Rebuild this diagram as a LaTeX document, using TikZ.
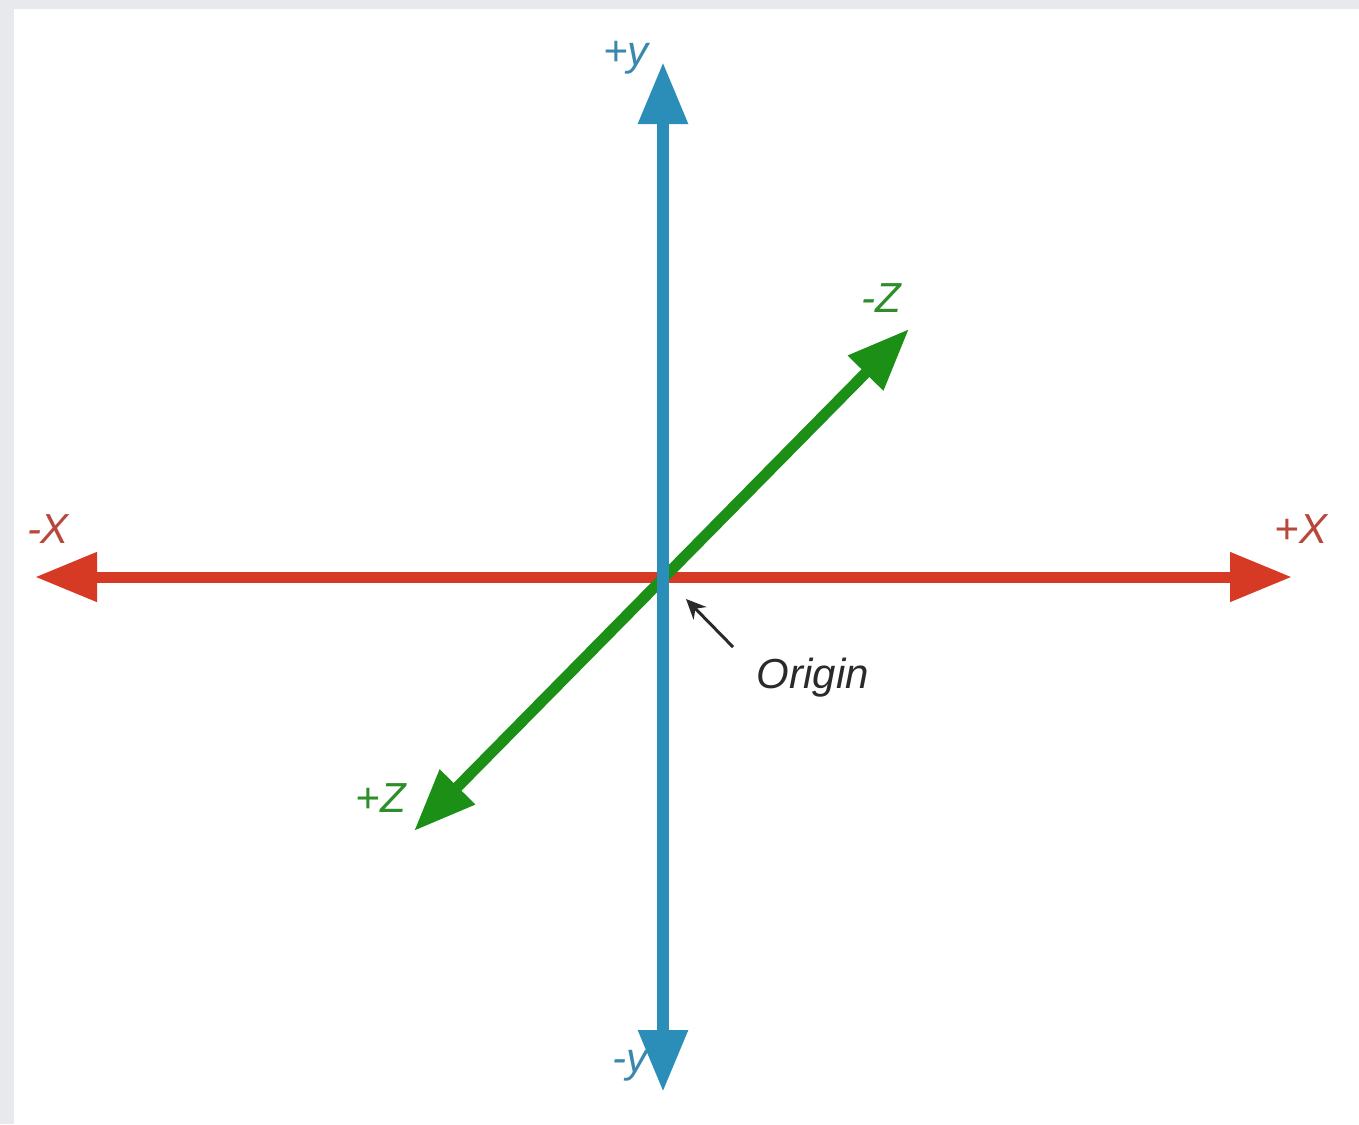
\documentclass[tikz,border=0pt]{standalone}
\usepackage{fontspec}
\setmainfont{Liberation Sans}
\usetikzlibrary{arrows.meta}
\definecolor{bggray}{HTML}{E8E9EC}
\definecolor{axred}{HTML}{D63A25}
\definecolor{axblue}{HTML}{2A8EB9}
\definecolor{axgreen}{HTML}{1C8F16}
\definecolor{lblred}{HTML}{B8473C}
\definecolor{lblblue}{HTML}{3A88AC}
\definecolor{lblgreen}{HTML}{2E8F2A}
\definecolor{lblgray}{HTML}{2A2A2A}
\begin{document}
\begin{tikzpicture}[x=0.5pt,y=-0.5pt,
  lbl/.style={font=\fontsize{21}{25}\selectfont\itshape, anchor=base, inner sep=0pt},
  axis/.style={line width=#1, {Triangle[length=31pt,width=23.5pt]}-{Triangle[length=31pt,width=23.5pt]}}]
\fill[bggray] (0,0) rectangle (1359,1124);
\fill[white] (14,9) rectangle (1359,1124);
\useasboundingbox (0,0) rectangle (1359,1124);

\coordinate (xn) at (35,577);
\coordinate (xp) at (1292,577);
\coordinate (yp) at (663,62);
\coordinate (yn) at (663,1092);
\coordinate (zn) at (909,329);
\coordinate (zp) at (414,831);
\coordinate (otail) at (733,647);
\coordinate (otip) at (686,599);

\draw[axred, axis=5.5pt] (xn) -- (xp);
\draw[axgreen, axis=5.5pt] (zp) -- (zn);
\draw[axblue, axis=6pt] (yn) -- (yp);

\node[lbl, text=lblblue] (lyp) at (626,65) {+y};
\node[lbl, text=lblblue] (lyn) at (630,1072) {-y};
\node[lbl, text=lblred] (lxn) at (48,543) {-X};
\node[lbl, text=lblred] (lxp) at (1301,543) {+X};
\node[lbl, text=lblgreen] (lzn) at (881,312) {-Z};
\node[lbl, text=lblgreen] (lzp) at (381,812) {+Z};
\node[lbl, text=lblgray] (orig) at (813,688) {Origin};

\draw[lblgray, line width=1.5pt, -{Stealth[length=10pt,width=9pt]}] (otail) -- (otip);
\end{tikzpicture}
\end{document}
